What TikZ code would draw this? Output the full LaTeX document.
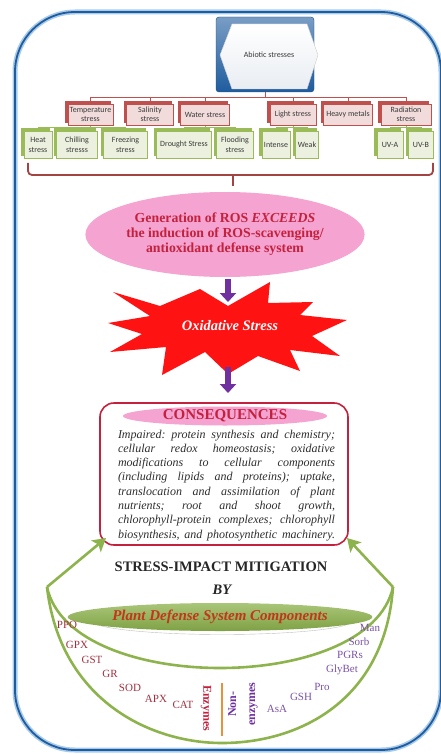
\documentclass[tikz,border=0pt]{standalone}
\usepackage{fontspec}
\setmainfont{Liberation Serif}
\newfontfamily\boxfont{Carlito}
\usetikzlibrary{shapes.geometric,shadows,arrows.meta,backgrounds,calc}

\definecolor{frameblue}{HTML}{1F5C9E}
\definecolor{frameglow}{HTML}{A9CBEB}
\definecolor{boxred}{HTML}{C0504D}
\definecolor{boxredfill}{HTML}{F2DCDB}
\definecolor{boxgreen}{HTML}{9BBB59}
\definecolor{boxgreenfill}{HTML}{EBF1DE}
\definecolor{boxtext}{HTML}{3A3A3A}
\definecolor{rostext}{HTML}{C4213E}
\definecolor{rospink}{HTML}{F5A3D0}
\definecolor{starred}{HTML}{FF1212}
\definecolor{arrowpurple}{HTML}{7030A0}
\definecolor{bowlgreen}{HTML}{8DB34C}
\definecolor{enzred}{HTML}{A0303E}
\definecolor{nonenzpurple}{HTML}{7B52A6}
\definecolor{divorange}{HTML}{E8913A}
\definecolor{pdstext}{HTML}{C4361C}
\definecolor{hexfill}{HTML}{E9EDF2}
\definecolor{paratext}{HTML}{2E2E2E}

% stretchable word space for the justified paragraph
\newcommand\jsp{\hskip 0.25em plus 1fil\relax}
\newcommand\jline[1]{\leavevmode\hbox to 217pt{#1}}

\begin{document}
\begin{tikzpicture}[x=1pt,y=-1pt,
  redbox/.style={draw=boxred, fill=boxredfill, line width=0.6pt,
    minimum height=21pt, inner sep=1pt, align=center, text=boxtext,
    font=\boxfont\fontsize{8}{9}\selectfont,
    copy shadow={shadow xshift=-2.5pt, shadow yshift=2.5pt, fill=boxred, draw=boxred}},
  greenbox/.style={draw=boxgreen, fill=boxgreenfill, line width=0.6pt,
    minimum height=27pt, inner sep=1pt, align=center, text=boxtext,
    font=\boxfont\fontsize{8}{10}\selectfont,
    copy shadow={shadow xshift=-2.5pt, shadow yshift=2.5pt, fill=boxgreen, draw=boxgreen}},
  redlink/.style={draw=boxred, line width=0.8pt},
  greenlink/.style={draw=boxgreen, line width=0.8pt},
  bigarrow/.style={draw=arrowpurple, line width=5.5pt, -{Triangle[length=9pt,width=16pt]}},
  mitarrow/.style={draw=bowlgreen, line width=2.6pt, -{Stealth[length=13pt,width=15pt,inset=3pt]}},
  bowlline/.style={draw=bowlgreen, line width=2.6pt},
  enz/.style={text=enzred, font=\fontsize{11}{11}\selectfont, inner sep=0pt},
  nonenz/.style={text=nonenzpurple, font=\fontsize{11}{11}\selectfont, inner sep=0pt},
]
\useasboundingbox (0,0) rectangle (441,754);

% outer frame
\draw[frameglow, line width=5pt, rounded corners=60pt] (15,12) rectangle (441,750);
\draw[frameblue, line width=1.8pt, rounded corners=60pt] (15,12) rectangle (441,750);

% root box
\node[draw=frameblue!80!black, top color=frameblue!60!white, bottom color=frameblue,
      rounded corners=3pt, minimum width=98pt, minimum height=75pt, inner sep=0pt]
      (abiotic) at (265,54.5) {};
\draw[top color=white, bottom color=hexfill, draw=black!20]
  (220,55) -- (232,24) -- (307,24) -- (318,55) -- (307,89) -- (232,89) -- cycle;
\node[font=\boxfont\fontsize{8}{8}\selectfont, text=boxtext] (abiotictxt) at (269,55) {Abiotic stresses};

% first level
\node[redbox, minimum width=45pt] (temp)  at (90.5,114.5) {Temperature\\stress};
\node[redbox, minimum width=47pt] (sal)   at (150,114.5) {Salinity\\stress};
\node[redbox, minimum width=49pt] (water) at (205,114.5) {Water stress};
\node[redbox, minimum width=46pt] (light) at (293,114.5) {Light stress};
\node[redbox, minimum width=49pt] (heavy) at (348,114.5) {Heavy metals};
\node[redbox, minimum width=50pt] (rad)   at (406,114.5) {Radiation\\stress};

% second level
\node[greenbox, minimum width=28pt] (heat)    at (38,144.5) {Heat\\stress};
\node[greenbox, minimum width=41pt] (chill)   at (77,144.5) {Chilling\\stresss};
\node[greenbox, minimum width=44pt] (freeze)  at (125.5,144.5) {Freezing\\stress};
\node[greenbox, minimum width=55pt] (drought) at (184,144.5) {Drought Stress};
\node[greenbox, minimum width=37pt] (flood)   at (235,144.5) {Flooding\\stress};
\node[greenbox, minimum width=28pt] (intense) at (276,144.5) {Intense};
\node[greenbox, minimum width=23pt] (weak)    at (307,144.5) {Weak};
\node[greenbox, minimum width=26pt] (uva)     at (390,144.5) {UV-A};
\node[greenbox, minimum width=25pt] (uvb)     at (421,144.5) {UV-B};

\begin{scope}[on background layer]
  \draw[redlink] (abiotic.south) -- ++(0,5) coordinate (rj);
  \foreach \n in {temp,sal,water,light,heavy,rad}
    \draw[redlink] (rj) -| (\n.north);
  \draw[greenlink] (temp.south) -- ++(0,2.5) coordinate (tj);
  \foreach \n in {heat,chill,freeze} \draw[greenlink] (tj) -| (\n.north);
  \draw[greenlink] (water.south) -- ++(0,2.5) coordinate (wj);
  \foreach \n in {drought,flood} \draw[greenlink] (wj) -| (\n.north);
  \draw[greenlink] (light.south) -- ++(0,2.5) coordinate (lj);
  \foreach \n in {intense,weak} \draw[greenlink] (lj) -| (\n.north);
  \draw[greenlink] (rad.south) -- ++(0,2.5) coordinate (raj);
  \foreach \n in {uva,uvb} \draw[greenlink] (raj) -| (\n.north);
\end{scope}

% bracket gathering all stresses
\draw[boxred!85!black, line width=1.8pt, rounded corners=4pt]
  (28,163) -- (28,175) -- (433,175) -- (433,163);
\draw[boxred!85!black, line width=1.8pt] (233,175) -- (233,186);

% ROS ellipse
\node[ellipse, fill=rospink, minimum width=246pt, minimum height=85pt, inner sep=0pt,
      align=center, text=rostext, font=\bfseries\fontsize{13.8}{15}\selectfont]
  (ros) at (225,234.5)
  {Generation of ROS \textit{EXCEEDS}\\the induction of ROS-scavenging/\\antioxidant defense system};

% starburst
\fill[starred] (108,323) -- (150,316) -- (113,292) -- (160,306) -- (200,289) -- (228,306)
  -- (270,282) -- (268,303) -- (313,302) -- (300,315) -- (347,320) -- (312,336)
  -- (340,356) -- (290,350) -- (300,371) -- (258,356) -- (228,374) -- (205,352)
  -- (162,375) -- (166,347) -- (110,352) -- (142,334) -- cycle;
\node[text=white, font=\bfseries\itshape\fontsize{14.5}{15}\selectfont] (oxi) at (230,326) {Oxidative Stress};

% consequences box
\node[draw=rostext, line width=1.6pt, fill=white, rounded corners=14pt,
      minimum width=248pt, minimum height=142pt, inner sep=0pt] (cons) at (224,474) {};
\node[ellipse, fill=rospink, minimum width=204pt, minimum height=19pt, inner sep=0pt,
      text=rostext, font=\bfseries\fontsize{15}{15}\selectfont] (constitle) at (225,416) {CONSEQUENCES};
\node[anchor=north, inner sep=0pt, text width=217pt, align=left, text=paratext,
      font=\itshape\fontsize{12}{14.3}\selectfont] (conspara) at (226.5,429.5)
  {\jline{Impaired:\jsp protein\jsp synthesis\jsp and\jsp chemistry;}\\
   \jline{cellular\jsp redox\jsp homeostasis;\jsp oxidative}\\
   \jline{modifications\jsp to\jsp cellular\jsp components}\\
   \jline{(including\jsp lipids\jsp and\jsp proteins);\jsp uptake,}\\
   \jline{translocation\jsp and\jsp assimilation\jsp of\jsp plant}\\
   \jline{nutrients;\jsp root\jsp and\jsp shoot\jsp growth,}\\
   \jline{chlorophyll-protein\jsp complexes;\jsp chlorophyll}\\
   \jline{biosynthesis,\jsp and\jsp photosynthetic\jsp machinery.}};

% purple arrows
\coordinate (a1s) at (228,279);
\coordinate (a1e) at (228,302);
\coordinate (a2s) at (228,367);
\coordinate (a2e) at (228,393);
\draw[bigarrow] (a1s) -- (a1e);
\draw[bigarrow] (a2s) -- (a2e);

% mitigation bowl
\coordinate (lap) at (47,587);
\coordinate (rap) at (393,587);
\coordinate (ltip) at (106,538);
\coordinate (rtip) at (347,538);
\draw[bowlline] (lap) .. controls (60,700) and (150,743) .. (222,743)
                     .. controls (300,743) and (385,700) .. (rap);
\draw[bowlline] (lap) .. controls (70,695) and (370,695) .. (rap);
\draw[mitarrow] (lap) -- (ltip);
\draw[mitarrow] (rap) -- (rtip);

\node[font=\bfseries\fontsize{14.5}{15}\selectfont, text=black!85] (mit) at (221,567) {STRESS-IMPACT MITIGATION};
\node[font=\bfseries\itshape\fontsize{14.5}{15}\selectfont, text=black!85] (by) at (222,590) {BY};

\node[ellipse, fill=white, draw=black!25, minimum width=262pt, minimum height=28pt, inner sep=0pt] (pdsrim) at (222,620.5) {};
\node[ellipse, top color=bowlgreen!75!white, bottom color=bowlgreen!90!black,
      minimum width=264pt, minimum height=28pt, inner sep=0pt, text=pdstext,
      font=\bfseries\itshape\fontsize{15}{15}\selectfont] (pds) at (220,617) {Plant Defense System Components};

% enzymatic components
\node[enz] (ppo) at (67,625) {PPO};
\node[enz] (gpx) at (77,645) {GPX};
\node[enz] (gst) at (92,660) {GST};
\node[enz] (gr)  at (110,674) {GR};
\node[enz] (sod) at (130,688) {SOD};
\node[enz] (apx) at (156,699) {APX};
\node[enz] (cat) at (183,705) {CAT};
\node[rotate=-90, text=rostext, font=\bfseries\fontsize{12}{12}\selectfont, inner sep=0pt] (enzlab) at (206,708) {Enzymes};

\coordinate (dtop) at (222,683);
\coordinate (dbot) at (222,736);
\draw[divorange, line width=2pt] (dtop) -- (dbot);

% non-enzymatic components
\node[rotate=90, align=center, text=arrowpurple, inner sep=0pt,
      font=\bfseries\fontsize{12}{19}\selectfont] (nonlab) at (243,704) {Non-\\enzymes};
\node[nonenz] (asa)    at (277,709) {AsA};
\node[nonenz] (gsh)    at (301,697) {GSH};
\node[nonenz] (pro)    at (322,687) {Pro};
\node[nonenz] (glybet) at (342,670) {GlyBet};
\node[nonenz] (pgrs)   at (350,655) {PGRs};
\node[nonenz] (sorb)   at (359,642) {Sorb};
\node[nonenz] (man)    at (370,628) {Man};
\end{tikzpicture}
\end{document}
